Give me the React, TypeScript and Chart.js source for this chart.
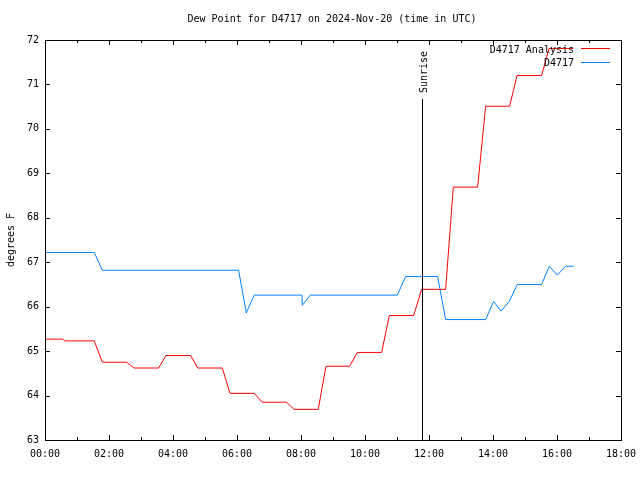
import React, { useEffect, useRef } from "react";
import { Chart, registerables } from "chart.js";

Chart.register(...registerables);

const titleText = "Dew Point for D4717 on 2024-Nov-20 (time in UTC)";
const yLabel = "degrees F";
const analysisLabel = "D4717 Analysis";
const obsLabel = "D4717";

const analysisTimes = [0.0, 0.55, 0.62, 1.54, 1.79, 2.55, 2.78, 3.55, 3.78, 4.55, 4.77, 5.54, 5.78, 6.54, 6.79, 7.55, 7.78, 8.54, 8.78, 9.52, 9.76, 10.52, 10.76, 11.52, 11.77, 12.52, 12.76, 13.52, 13.77, 14.52, 14.75, 15.52, 15.75, 16.51];
const analysisValues = [65.27, 65.27, 65.23, 65.23, 64.75, 64.75, 64.62, 64.62, 64.9, 64.9, 64.62, 64.62, 64.05, 64.05, 63.85, 63.85, 63.69, 63.69, 64.66, 64.66, 64.97, 64.97, 65.8, 65.8, 66.39, 66.39, 68.69, 68.69, 70.51, 70.51, 71.2, 71.2, 71.81, 71.81];

const obsTimes = [0.0, 1.54, 1.79, 6.05, 6.29, 6.54, 8.03, 8.04, 8.29, 11.01, 11.27, 12.27, 12.52, 13.77, 14.02, 14.25, 14.51, 14.76, 15.52, 15.76, 16.01, 16.27, 16.52];
const obsValues = [67.22, 67.22, 66.82, 66.82, 65.86, 66.26, 66.26, 66.03, 66.26, 66.26, 66.68, 66.68, 65.71, 65.71, 66.12, 65.9, 66.12, 66.5, 66.5, 66.91, 66.71, 66.91, 66.91];

const sunriseTime = 11.78;
const sunriseTop = 70.67;
const sunriseText = "Sunrise";

const xMin = 0;
const xMax = 18;
const yMin = 63;
const yMax = 72;

const FONT = "10px 'DejaVu Sans Mono', monospace";
const RED = "#ff0000";
const BLUE = "#0080ff";

const decorPlugin = {
  id: "decor",
  afterDraw(chart: any) {
    const ctx = chart.ctx;
    const { left, right, top, bottom } = chart.chartArea;
    const xs = chart.scales.x;
    const ys = chart.scales.y;
    ctx.save();
    ctx.strokeStyle = "#000";
    ctx.lineWidth = 1;
    ctx.strokeRect(Math.round(left) + 0.5, Math.round(top) + 0.5, Math.round(right - left), Math.round(bottom - top));
    ctx.beginPath();
    for (let h = xMin; h <= xMax; h++) {
      const px = Math.round(xs.getPixelForValue(h)) + 0.5;
      const len = h % 2 === 0 ? 5 : 3;
      ctx.moveTo(px, bottom);
      ctx.lineTo(px, bottom - len);
      ctx.moveTo(px, top);
      ctx.lineTo(px, top + len);
    }
    for (let v = yMin; v <= yMax; v++) {
      const py = Math.round(ys.getPixelForValue(v)) + 0.5;
      ctx.moveTo(left, py);
      ctx.lineTo(left + 5, py);
      ctx.moveTo(right, py);
      ctx.lineTo(right - 5, py);
    }
    ctx.stroke();
    const sx = Math.round(xs.getPixelForValue(sunriseTime)) + 0.5;
    const sTop = ys.getPixelForValue(sunriseTop);
    ctx.beginPath();
    ctx.moveTo(sx, bottom);
    ctx.lineTo(sx, sTop);
    ctx.stroke();
    ctx.fillStyle = "#000";
    ctx.font = FONT;
    ctx.save();
    ctx.translate(sx + 2, sTop - 6);
    ctx.rotate(-Math.PI / 2);
    ctx.textAlign = "left";
    ctx.textBaseline = "middle";
    ctx.fillText(sunriseText, 0, 0);
    ctx.restore();
    ctx.textAlign = "center";
    ctx.textBaseline = "middle";
    ctx.fillText(titleText, 332, 19);
    ctx.save();
    ctx.translate(11, 240);
    ctx.rotate(-Math.PI / 2);
    ctx.fillText(yLabel, 0, 0);
    ctx.restore();
    ctx.textAlign = "right";
    ctx.fillText(analysisLabel, 574, 50);
    ctx.fillText(obsLabel, 574, 63);
    ctx.strokeStyle = RED;
    ctx.beginPath();
    ctx.moveTo(581, 48.5);
    ctx.lineTo(610, 48.5);
    ctx.stroke();
    ctx.strokeStyle = BLUE;
    ctx.beginPath();
    ctx.moveTo(581, 62.5);
    ctx.lineTo(610, 62.5);
    ctx.stroke();
    ctx.restore();
  },
};

export default function App() {
  const ref = useRef<HTMLCanvasElement | null>(null);
  useEffect(() => {
    document.body.style.margin = "0";
    if (!ref.current) return;
    const chart = new Chart(ref.current, {
      type: "line",
      data: {
        datasets: [
          {
            label: analysisLabel,
            data: analysisTimes.map((t, i) => ({ x: t, y: analysisValues[i] })),
            borderColor: RED,
            borderWidth: 1,
            pointRadius: 0,
            tension: 0,
            fill: false,
          },
          {
            label: obsLabel,
            data: obsTimes.map((t, i) => ({ x: t, y: obsValues[i] })),
            borderColor: BLUE,
            borderWidth: 1,
            pointRadius: 0,
            tension: 0,
            fill: false,
          },
        ],
      },
      options: {
        responsive: false,
        animation: false,
        layout: { padding: { top: 40, right: 19, left: 0, bottom: 0 } },
        plugins: { legend: { display: false }, title: { display: false }, tooltip: { enabled: false } },
        scales: {
          x: {
            type: "linear",
            min: xMin,
            max: xMax,
            grid: { display: false, drawTicks: false },
            border: { display: false },
            ticks: {
              stepSize: 2,
              padding: 8,
              color: "#000",
              font: { family: "'DejaVu Sans Mono', monospace", size: 10 },
              maxRotation: 0,
              callback: (v: any) => String(v).padStart(2, "0") + ":00",
            },
            afterFit: (s: any) => {
              s.height = 40;
              s.paddingLeft = 0;
              s.paddingRight = 0;
            },
          },
          y: {
            min: yMin,
            max: yMax,
            grid: { display: false, drawTicks: false },
            border: { display: false },
            ticks: {
              stepSize: 1,
              padding: 6,
              color: "#000",
              font: { family: "'DejaVu Sans Mono', monospace", size: 10 },
            },
            afterFit: (s: any) => {
              s.width = 45;
              s.paddingTop = 0;
              s.paddingBottom = 0;
            },
          },
        },
      },
      plugins: [decorPlugin],
    });
    return () => chart.destroy();
  }, []);
  return (
    <div style={{ width: 640, height: 480 }}>
      <canvas ref={ref} width={640} height={480} />
    </div>
  );
}
